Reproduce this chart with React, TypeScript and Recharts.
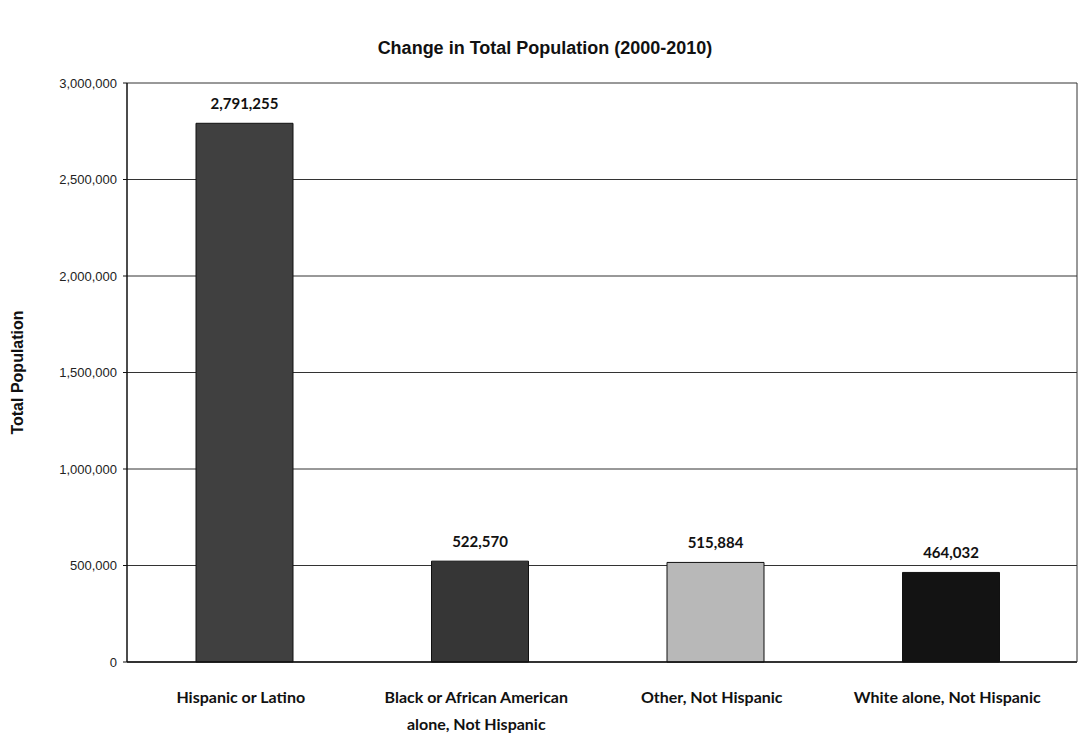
import { BarChart, Bar, XAxis, YAxis, CartesianGrid, LabelList, Cell } from 'recharts'

const categories = [
  'Hispanic or Latino',
  'Black or African American\nalone, Not Hispanic',
  'Other, Not Hispanic',
  'White alone, Not Hispanic',
]
const populationChange = [2791255, 522570, 515884, 464032]
const barColors = ['#404040', '#363636', '#b8b8b8', '#131313']
const yTicks = [0, 500000, 1000000, 1500000, 2000000, 2500000, 3000000]

const data = categories.map((name, i) => ({ name, value: populationChange[i] }))

function CategoryTick(props: any) {
  const { x, y, payload } = props
  const lines = String(payload.value).split('\n')
  return (
    <g transform={`translate(${x - 4},${y})`}>
      {lines.map((line, i) => (
        <text
          key={i}
          x={0}
          y={i * 27}
          dy={33}
          textAnchor="middle"
          fontFamily="Lato, 'Open Sans', sans-serif"
          fontWeight="bold"
          fontSize={16}
          fill="#111"
        >
          {line}
        </text>
      ))}
    </g>
  )
}

export default function App() {
  return (
    <div style={{ position: 'absolute', left: 0, top: 0, width: 1081, height: 735, background: '#fff' }}>
      <div
        style={{
          position: 'absolute',
          top: 38,
          left: 0,
          width: 1090,
          textAlign: 'center',
          fontFamily: "'Liberation Sans', Arial, sans-serif",
          fontWeight: 'bold',
          fontSize: 18,
          color: '#111',
        }}
      >
        Change in Total Population (2000-2010)
      </div>
      <BarChart
        width={1081}
        height={735}
        data={data}
        margin={{ top: 83, right: 0, bottom: 43, left: 0 }}
      >
        <CartesianGrid vertical={false} stroke="#333" strokeWidth={1} />
        <XAxis
          dataKey="name"
          height={30}
          tick={<CategoryTick />}
          tickLine={false}
          axisLine={{ stroke: '#111', strokeWidth: 1.5 }}
          interval={0}
          padding={{ left: 0, right: 8 }}
        />
        <YAxis
          width={127}
          domain={[0, 3000000]}
          ticks={yTicks}
          tickFormatter={(v: number) => v.toLocaleString('en-US')}
          tick={{ fontFamily: "'Liberation Sans', Arial, sans-serif", fontSize: 13, fill: '#222' }}
          tickSize={4}
          tickLine={{ stroke: '#111' }}
          tickMargin={6}
          axisLine={{ stroke: '#111', strokeWidth: 1.5 }}
          label={{
            value: 'Total Population',
            angle: -90,
            position: 'insideLeft',
            offset: 17,
            style: {
              textAnchor: 'middle',
              fontFamily: "'Liberation Sans', Arial, sans-serif",
              fontWeight: 'bold',
              fontSize: 16,
              fill: '#111',
            },
          }}
        />
        <YAxis
          yAxisId="right"
          orientation="right"
          width={4}
          tick={false}
          tickLine={false}
          axisLine={{ stroke: '#333' }}
        />
        <Bar dataKey="value" barSize={97} isAnimationActive={false} stroke="#111" strokeWidth={1}>
          {data.map((_, i) => (
            <Cell key={i} fill={barColors[i]} />
          ))}
          <LabelList
            dataKey="value"
            position="top"
            offset={14}
            formatter={(v: number) => v.toLocaleString('en-US')}
            style={{ fontFamily: "Lato, 'Open Sans', sans-serif", fontWeight: 'bold', fontSize: 15, fill: '#111' }}
          />
        </Bar>
      </BarChart>
    </div>
  )
}
